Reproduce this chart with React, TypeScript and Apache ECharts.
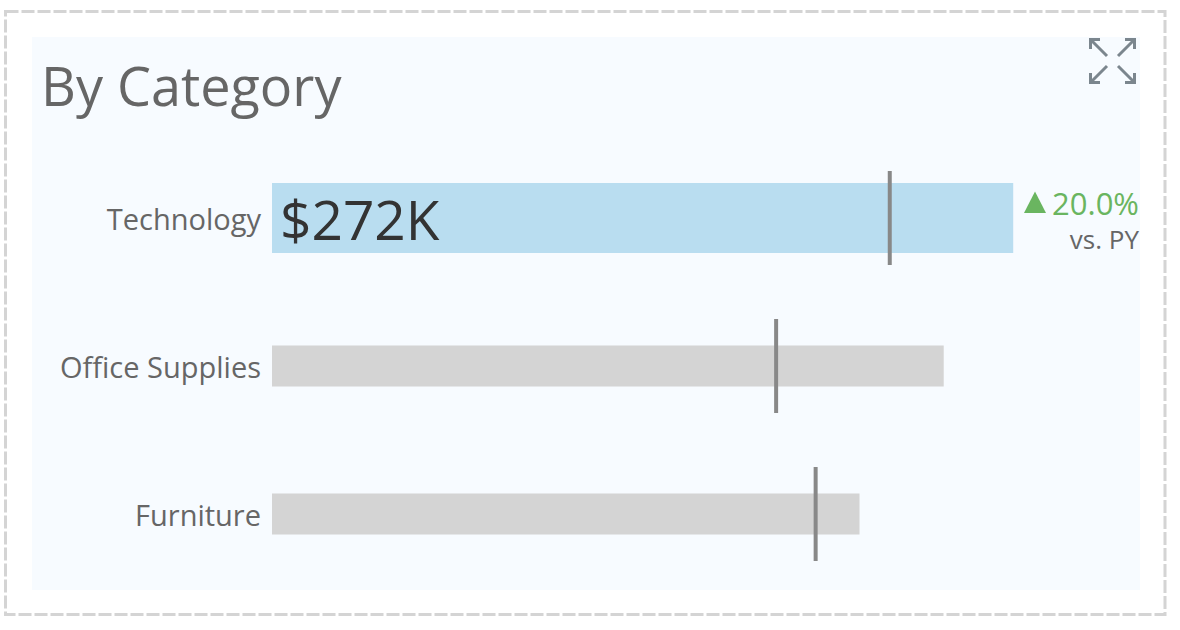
import React, { useEffect, useRef } from "react";
import * as echarts from "echarts";

// Data ($K)
const categories = ["Technology", "Office Supplies", "Furniture"];
const currentSales = [272, 246.5, 215.6];
const priorYearSales = [226.7, 185, 199.5];
const highlighted = "Technology";
const titleText = "By Category";
const compareText = "vs. PY";

const FONT = "'Open Sans', sans-serif";

export default function App() {
  const ref = useRef<HTMLDivElement>(null);
  useEffect(() => {
    document.body.style.margin = "0";
    if (!ref.current) return;
    const chart = echarts.init(ref.current, undefined, { renderer: "svg" });
    const hiIdx = categories.indexOf(highlighted);
    const pct = (currentSales[hiIdx] / priorYearSales[hiIdx] - 1) * 100;
    const up = pct >= 0;
    const iconColor = "#7b868e";
    const iconStyle = { stroke: iconColor, lineWidth: 3, fill: "none" };
    const green = "#6ab560";
    const option: any = {
      animation: false,
      backgroundColor: "#ffffff",
      grid: { left: 272, top: 144, height: 444, width: 817.5, containLabel: false },
      xAxis: { type: "value", min: 0, max: 300, show: false },
      yAxis: [
        {
          type: "category",
          data: categories,
          inverse: true,
          axisLine: { show: false },
          axisTick: { show: false },
          splitLine: { show: false },
          axisLabel: { fontSize: 29, color: "#666666", fontFamily: FONT, margin: 11 },
        },
        {
          type: "category",
          data: categories,
          inverse: true,
          show: false,
        },
      ],
      graphic: [
        {
          type: "rect",
          shape: { x: 5.5, y: 11.5, width: 1159.5, height: 603 },
          style: { fill: "none", stroke: "#d4d4d4", lineWidth: 3, lineDash: [13, 3] },
          z: -10,
        },
        {
          type: "rect",
          shape: { x: 32, y: 37, width: 1108, height: 553 },
          style: { fill: "#f7fbff" },
          z: -10,
        },
        {
          type: "text",
          x: 41,
          y: 85,
          style: { text: titleText, fontSize: 54, fontFamily: FONT, fill: "#666666", verticalAlign: "middle", align: "left" },
        },
        {
          type: "polygon",
          shape: up
            ? { points: [[1024, 213], [1046, 213], [1035, 191.5]] }
            : { points: [[1024, 192], [1046, 192], [1035, 213]] },
          style: { fill: green },
        },
        {
          type: "text",
          x: 1139,
          y: 202.5,
          style: {
            text: `${Math.abs(pct).toFixed(1)}%`,
            fontSize: 31,
            fontFamily: FONT,
            fill: green,
            align: "right",
            verticalAlign: "middle",
          },
        },
        {
          type: "text",
          x: 1139,
          y: 239,
          style: { text: compareText, fontSize: 26, fontFamily: FONT, fill: "#666666", align: "right", verticalAlign: "middle" },
        },
        // expand icon
        { type: "polyline", shape: { points: [[1100, 39.5], [1090.5, 39.5], [1090.5, 49]] }, style: iconStyle },
        { type: "line", shape: { x1: 1091, y1: 40, x2: 1107, y2: 56 }, style: iconStyle },
        { type: "polyline", shape: { points: [[1125, 39.5], [1134.5, 39.5], [1134.5, 49]] }, style: iconStyle },
        { type: "line", shape: { x1: 1134, y1: 40, x2: 1118, y2: 56 }, style: iconStyle },
        { type: "polyline", shape: { points: [[1090.5, 73], [1090.5, 82.5], [1100, 82.5]] }, style: iconStyle },
        { type: "line", shape: { x1: 1091, y1: 82, x2: 1107, y2: 66 }, style: iconStyle },
        { type: "polyline", shape: { points: [[1134.5, 73], [1134.5, 82.5], [1125, 82.5]] }, style: iconStyle },
        { type: "line", shape: { x1: 1134, y1: 82, x2: 1118, y2: 66 }, style: iconStyle },
      ],
      series: [
        {
          type: "bar",
          name: "Sales",
          yAxisIndex: 0,
          barWidth: 41,
          data: categories.map((c, i) => (c === highlighted ? "-" : currentSales[i])),
          itemStyle: { color: "#d4d4d4" },
          silent: true,
        },
        {
          type: "bar",
          name: "Selected",
          yAxisIndex: 1,
          barWidth: 70,
          data: categories.map((c, i) => (c === highlighted ? currentSales[i] : "-")),
          itemStyle: { color: "#b9ddf0" },
          label: {
            show: true,
            position: "insideLeft",
            distance: 8,
            formatter: (p: any) => `$${Math.round(p.value)}K`,
            fontSize: 55,
            fontFamily: FONT,
            color: "#333333",
          },
          silent: true,
        },
        {
          type: "scatter",
          name: "Prior Year",
          yAxisIndex: 0,
          symbol: "rect",
          symbolSize: [4, 94],
          data: categories.map((c, i) => [priorYearSales[i], c]),
          itemStyle: { color: "#888888", opacity: 1 },
          z: 5,
          silent: true,
        },
      ],
    };
    chart.setOption(option);
    return () => chart.dispose();
  }, []);
  return <div ref={ref} style={{ width: 1180, height: 630 }} />;
}
